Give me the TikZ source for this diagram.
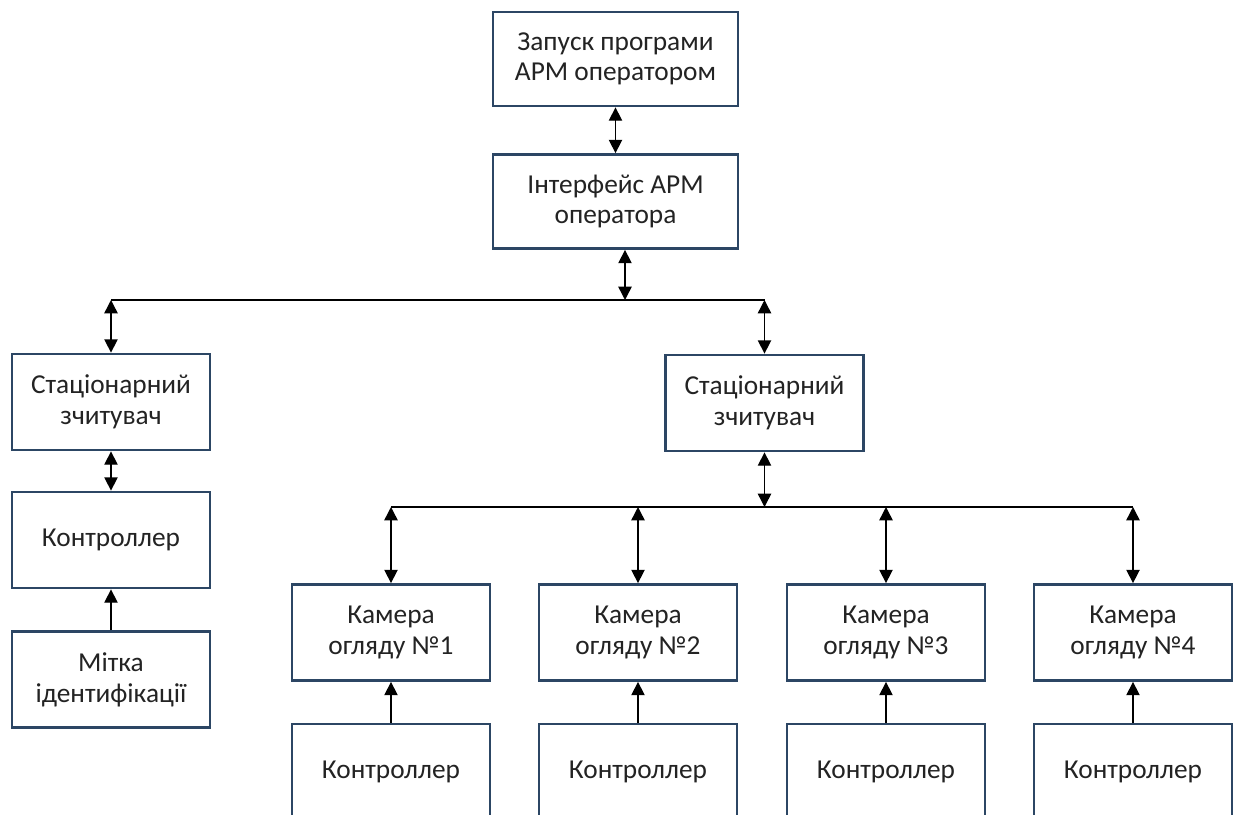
\documentclass[tikz,border=0pt]{standalone}
\usepackage{fontspec}
\setmainfont{Carlito}
\usetikzlibrary{arrows.meta}
\definecolor{bord}{RGB}{44,70,100}
\definecolor{txt}{RGB}{35,35,35}
\begin{document}
\begin{tikzpicture}[x=0.75pt,y=-0.75pt,
 box/.style={draw=bord,line width=2.1pt,fill=white,align=center,text=txt,font=\fontsize{20.5}{23}\selectfont,inner sep=0pt},
 wide/.style={box,minimum width=183.75pt,minimum height=70.5pt},
 std/.style={box,minimum width=148.5pt,minimum height=72pt},
 link/.style={line width=1.1pt,black},
 both/.style={link,{Triangle[width=10pt,length=10pt]}-{Triangle[width=10pt,length=10pt]}},
 one/.style={link,-{Triangle[width=10pt,length=10pt]}}]
\useasboundingbox (0,0) rectangle (1242,814);
\clip (0,0) rectangle (1242,814);
\node[wide] (start) at (615.5,59) {Запуск програми\\АРМ оператором};
\node[wide] (iface) at (615.5,201.5) {Інтерфейс АРМ\\оператора};
\node[std] (st1) at (111,402) {Стаціонарний\\зчитувач};
\node[std] (st2) at (764.5,403) {Стаціонарний\\зчитувач};
\node[std] (ctl) at (111,540) {Контроллер};
\node[std] (tag) at (111,679.5) {Мітка\\ідентифікації};
\node[std] (cam1) at (391,632.5) {Камера\\огляду №1};
\node[std] (cam2) at (638,632.5) {Камера\\огляду №2};
\node[std] (cam3) at (886,632.5) {Камера\\огляду №3};
\node[std] (cam4) at (1133,632.5) {Камера\\огляду №4};
\node[std] (c1) at (391,772) {Контроллер};
\node[std] (c2) at (638,772) {Контроллер};
\node[std] (c3) at (886,772) {Контроллер};
\node[std] (c4) at (1133,772) {Контроллер};
\coordinate (b1) at (625,300);
\coordinate (b2) at (764.5,507);
\draw[both] (start.south) -- (iface.north);
\draw[both] (iface.south -| b1) -- (b1);
\draw[link] (st1.north |- b1) -- (st2.north |- b1);
\draw[both] (st1.north |- b1) -- (st1.north);
\draw[both] (st2.north |- b1) -- (st2.north);
\draw[both] (st1.south) -- (ctl.north);
\draw[one] (tag.north) -- (ctl.south);
\draw[both] (st2.south) -- (b2);
\draw[link] (cam1.north |- b2) -- (cam4.north |- b2);
\foreach \i in {1,2,3,4}{
 \draw[both] (cam\i.north |- b2) -- (cam\i.north);
 \draw[one] (c\i.north) -- (cam\i.south);
}
\end{tikzpicture}
\end{document}
